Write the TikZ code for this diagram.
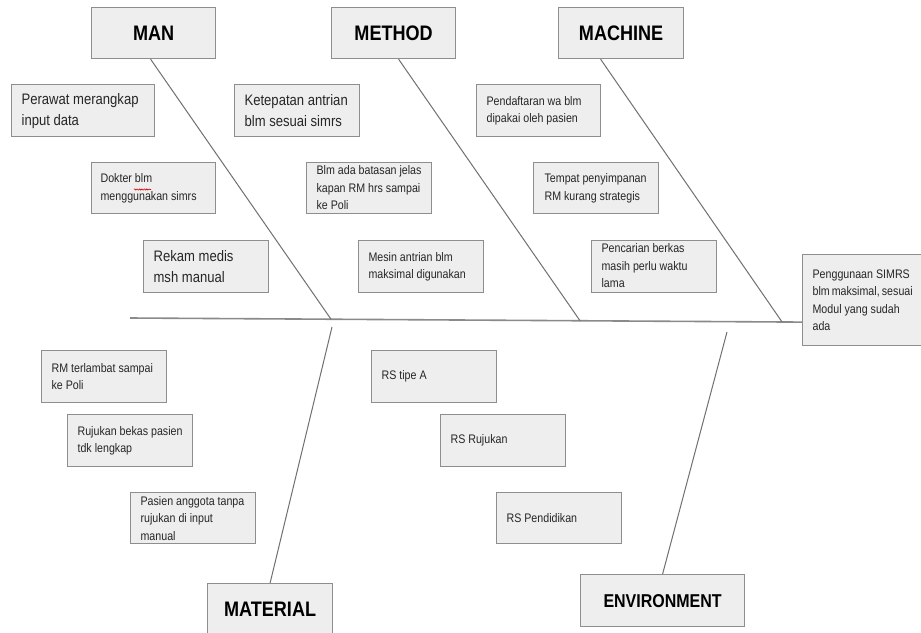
\documentclass[tikz,border=0pt]{standalone}
\usepackage{fontspec}
\setmainfont{Liberation Sans}[FakeStretch=0.86]
\usetikzlibrary{decorations.pathmorphing}
\definecolor{boxfill}{HTML}{EEEEEE}
\definecolor{boxline}{HTML}{8E8E8E}
\definecolor{bonecol}{HTML}{707070}
\definecolor{spinecol}{HTML}{8A8A8A}
\definecolor{txt}{HTML}{262626}
\newcommand\hdrfont{\fontsize{21}{24}\selectfont\bfseries}
\newcommand\envfont{\fontsize{18.6}{22}\selectfont\bfseries}
\newcommand\bigtxt{\fontsize{15.2}{21}\selectfont}
\newcommand\smalltxt{\fontsize{12.4}{17.5}\selectfont}
% one left-aligned line spanning the full block width
\newcommand\tline[1]{\hbox to \hsize{#1\hfil}}
% centred block of lines inside a box of given height / width
\newcommand\midblock[3]{\parbox[c][#1][c]{#2}{#3}}
% top-aligned block (text runs to the bottom edge)
\newcommand\topblock[3]{\parbox[c][#1][t]{#2}{#3}}
\begin{document}
\begin{tikzpicture}[x=1pt,y=-1pt,
  cbox/.style={draw=boxline, fill=boxfill, line width=1.2pt, inner sep=0pt,
               anchor=north west, text=txt},
  hbox/.style={cbox, text=black},
  bone/.style={draw=bonecol, line width=1pt},
  spine/.style={draw=spinecol, line width=1.6pt}]
\useasboundingbox (0,0) rectangle (921,632);
\fill[white] (0,0) rectangle (921,632);

% ---------- category headers ----------
\node[hbox, minimum width=124pt, minimum height=51pt] (man) at (91,7) {\hdrfont MAN};
\node[hbox, minimum width=124pt, minimum height=51pt] (method) at (331,7) {\hdrfont METHOD};
\node[hbox, minimum width=125pt, minimum height=51pt] (machine) at (558,7) {\hdrfont MACHINE};
\node[hbox, minimum width=125pt, minimum height=51pt] (material) at (207,583) {\hdrfont MATERIAL};
\node[hbox, minimum width=164pt, minimum height=52pt] (environment) at (580,574) {\envfont ENVIRONMENT};

% ---------- upper causes ----------
\node[cbox, minimum width=143pt] (perawat) at (11,84)
  {\midblock{52pt}{123pt}{\bigtxt\tline{Perawat merangkap}\tline{input data}}};
\node[cbox, minimum width=125pt] (ketepatan) at (234,84)
  {\midblock{52pt}{105pt}{\bigtxt\tline{Ketepatan antrian}\tline{blm sesuai simrs}}};
\node[cbox, minimum width=124pt] (pendaftaran) at (476,84)
  {\midblock{52pt}{104pt}{\smalltxt\tline{Pendaftaran wa blm}\tline{dipakai oleh pasien}}};
\node[cbox, minimum width=124pt] (dokter) at (91,162)
  {\midblock{51pt}{106pt}{\smalltxt\tline{Dokter blm}\tline{menggunakan simrs}}};
\node[cbox, minimum width=125pt] (blmada) at (306,162)
  {\topblock{51pt}{105pt}{\smalltxt\tline{\rule{0pt}{12pt}Blm ada batasan jelas}\tline{kapan RM hrs sampai}\tline{ke Poli}}};
\node[cbox, minimum width=125pt] (tempat) at (533,162)
  {\midblock{51pt}{103pt}{\smalltxt\tline{Tempat penyimpanan}\tline{RM kurang strategis}}};
\node[cbox, minimum width=125pt] (rekam) at (143,240)
  {\midblock{52pt}{105pt}{\bigtxt\tline{Rekam medis}\tline{msh manual}}};
\node[cbox, minimum width=125pt] (mesin) at (358,240)
  {\midblock{52pt}{105pt}{\smalltxt\tline{Mesin antrian blm}\tline{maksimal digunakan}}};
\node[cbox, minimum width=125pt] (pencarian) at (591,240)
  {\topblock{52pt}{105pt}{\smalltxt\tline{\rule{0pt}{12pt}Pencarian berkas}\tline{masih perlu waktu}\tline{lama}}};

% ---------- effect ----------
\node[cbox, minimum width=120pt] (effect) at (802,254)
  {\midblock{91pt}{100pt}{\smalltxt\tline{Penggunaan SIMRS}\tline{blm maksimal, sesuai}\tline{Modul yang sudah}\tline{ada}}};

% ---------- lower causes ----------
\node[cbox, minimum width=125pt] (rmterlambat) at (41,350)
  {\midblock{52pt}{105pt}{\smalltxt\tline{RM terlambat sampai}\tline{ke Poli}}};
\node[cbox, minimum width=125pt] (rujukan) at (67,414)
  {\midblock{52pt}{105pt}{\smalltxt\tline{Rujukan bekas pasien}\tline{tdk lengkap}}};
\node[cbox, minimum width=125pt] (pasien) at (130,492)
  {\topblock{51pt}{105pt}{\smalltxt\tline{\rule{0pt}{12.5pt}Pasien anggota tanpa}\tline{rujukan di input}\tline{manual}}};
\node[cbox, minimum width=125pt] (rstipe) at (371,350)
  {\midblock{52pt}{105pt}{\smalltxt\tline{RS tipe A}}};
\node[cbox, minimum width=125pt] (rsrujukan) at (440,414)
  {\midblock{52pt}{105pt}{\smalltxt\tline{RS Rujukan}}};
\node[cbox, minimum width=125pt] (rspend) at (496,492)
  {\midblock{51pt}{105pt}{\smalltxt\tline{RS Pendidikan}}};

% spell-check squiggle under "blm"
\draw[red!85!black, line width=0.6pt, decorate,
      decoration={snake, amplitude=0.6pt, segment length=2.4pt}]
  ([shift={(43pt,-27.5pt)}]dokter.north west) -- ([shift={(60pt,-27.5pt)}]dokter.north west);

% ---------- spine and bones ----------
\coordinate (tail) at (130,318);
\coordinate (j1) at (331,319.2);
\coordinate (j2) at (580,320.7);
\coordinate (j3) at (782,321.9);
\coordinate (mtop) at (332,327);
\coordinate (etop) at (727,332);

\draw[spine] (tail) -- ([yshift=-22pt]effect.west);
\draw[bone] ([xshift=-3pt]man.south) -- (j1);
\draw[bone] ([xshift=5pt]method.south) -- (j2);
\draw[bone] ([xshift=-20.5pt]machine.south) -- (j3);
\draw[bone] (mtop) -- (material.north);
\draw[bone] (etop) -- (environment.north);
\end{tikzpicture}
\end{document}
